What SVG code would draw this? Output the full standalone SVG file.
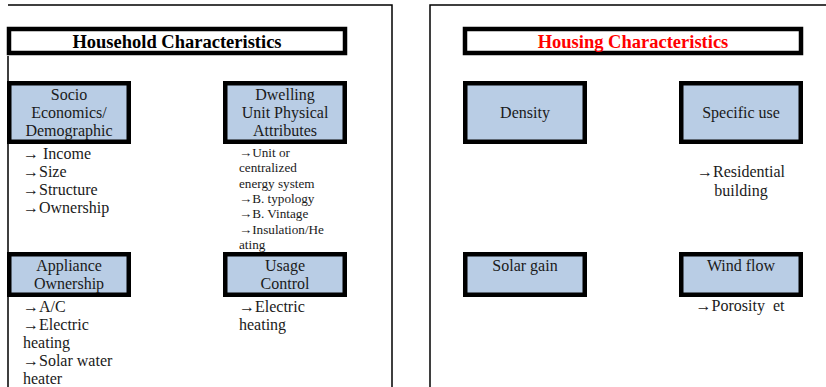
<svg xmlns="http://www.w3.org/2000/svg" width="826" height="387" viewBox="0 0 826 387">
<style>
.frame{fill:none;stroke:#000;stroke-width:1.5}
.title{fill:#fff;stroke:#000;stroke-width:4.5}
.box{fill:#b9cde5;stroke:#000;stroke-width:4.5}
.tt{font-family:"Liberation Serif","Times New Roman",serif;font-weight:bold;font-size:18.5px;text-anchor:middle}
.bt{font-family:"Liberation Serif","Times New Roman",serif;font-size:16px;fill:#1a1a1a;text-anchor:middle}
.lt{font-family:"Liberation Serif","Times New Roman",serif;font-size:16px;fill:#1a1a1a}
.st{font-family:"Liberation Serif","Times New Roman",serif;font-size:13.2px;fill:#1a1a1a}
</style>
<rect width="826" height="387" fill="#fff"/>
<g id="frames">
<path class="frame" d="M8,5 H392 V387 M8,56 V387"/>
<path class="frame" d="M430,387 V5 H826"/>
</g>
<g id="household-title">
<rect class="title" x="9" y="29" width="336" height="24"/>
<text class="tt" x="177" y="48" fill="#000">Household Characteristics</text>
</g>
<g id="socio">
<rect class="box" x="9.25" y="83.25" width="119.5" height="58.5"/>
<text class="bt" x="69" y="100">Socio</text>
<text class="bt" x="69" y="118">Economics/</text>
<text class="bt" x="69" y="136">Demographic</text>
<text class="lt" x="23" y="159">→ Income</text>
<text class="lt" x="23" y="177">→Size</text>
<text class="lt" x="23" y="195">→Structure</text>
<text class="lt" x="23" y="213">→Ownership</text>
</g>
<g id="dwelling">
<rect class="box" x="225.25" y="83.25" width="119.5" height="58.5"/>
<text class="bt" x="285" y="100">Dwelling</text>
<text class="bt" x="285" y="118">Unit Physical</text>
<text class="bt" x="285" y="136">Attributes</text>
<text class="st" x="239" y="157">→Unit or</text>
<text class="st" x="239" y="172">centralized</text>
<text class="st" x="239" y="187.5">energy system</text>
<text class="st" x="239" y="203">→B. typology</text>
<text class="st" x="239" y="218">→B. Vintage</text>
<text class="st" x="239" y="233.5">→Insulation/He</text>
<text class="st" x="239" y="248.5">ating</text>
</g>
<g id="appliance">
<rect class="box" x="9.25" y="254.25" width="119.5" height="40.5"/>
<text class="bt" x="69" y="271">Appliance</text>
<text class="bt" x="69" y="288.5">Ownership</text>
<text class="lt" x="23" y="312">→A/C</text>
<text class="lt" x="23" y="330">→Electric</text>
<text class="lt" x="23" y="348">heating</text>
<text class="lt" x="23" y="366">→Solar water</text>
<text class="lt" x="23" y="384">heater</text>
</g>
<g id="usage">
<rect class="box" x="225.25" y="254.25" width="119.5" height="40.5"/>
<text class="bt" x="285" y="271">Usage</text>
<text class="bt" x="285" y="288.5">Control</text>
<text class="lt" x="239" y="312">→Electric</text>
<text class="lt" x="239" y="330">heating</text>
</g>
<g id="housing-title">
<rect class="title" x="465" y="29" width="336" height="24"/>
<text class="tt" x="633" y="48" fill="#ff0000">Housing Characteristics</text>
</g>
<g id="density">
<rect class="box" x="465.25" y="83.25" width="119.5" height="58.5"/>
<text class="bt" x="525" y="118">Density</text>
</g>
<g id="specific-use">
<rect class="box" x="681.25" y="83.25" width="119.5" height="58.5"/>
<text class="bt" x="741" y="118">Specific use</text>
<text class="bt" x="741" y="177">→Residential</text>
<text class="bt" x="741" y="196">building</text>
</g>
<g id="solar-gain">
<rect class="box" x="465.25" y="254.25" width="119.5" height="40.5"/>
<text class="bt" x="525" y="271">Solar gain</text>
</g>
<g id="wind-flow">
<rect class="box" x="681.25" y="254.25" width="119.5" height="40.5"/>
<text class="bt" x="741" y="271">Wind flow</text>
<text class="bt" x="740" y="311" xml:space="preserve">→Porosity  et</text>
</g>
<g id="connectors"/>
</svg>
